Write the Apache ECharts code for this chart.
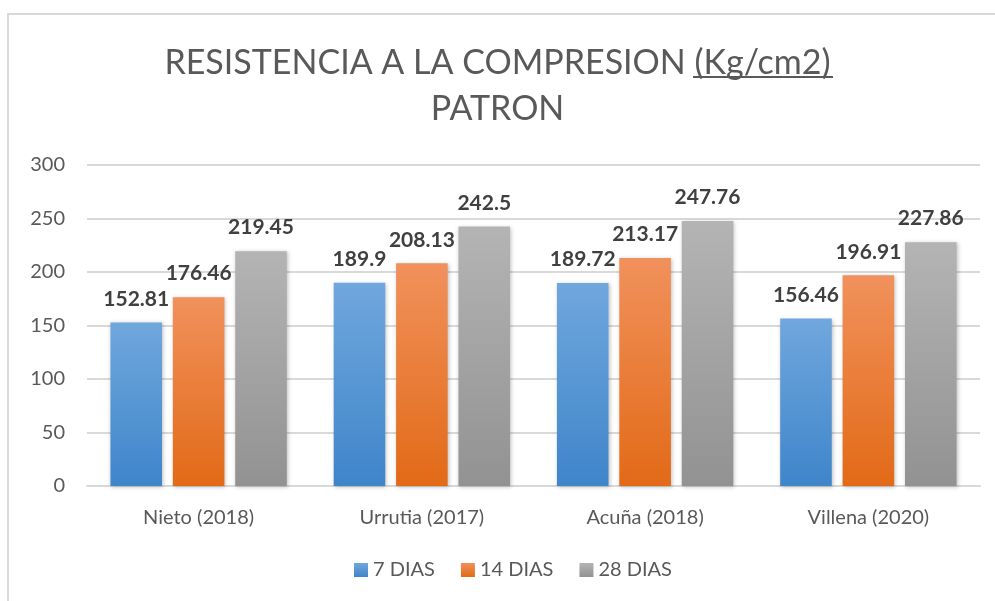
<!DOCTYPE html>
<html>
<head>
<meta charset="utf-8">
<script src="https://cdn.jsdelivr.net/npm/echarts@6/dist/echarts.min.js"></script>
<style>
    html, body { margin: 0; padding: 0; background: #fff; }
    #frame { position: absolute; left: 7px; top: 13px; width: 1000px; height: 600px; border: 2px solid #d9d9d9; box-sizing: border-box; }
    #chart { position: absolute; left: 0; top: 0; width: 995px; height: 601px; }
</style>
</head>
<body>
<div id="frame"></div>
<div id="chart"></div>
<script>
// 数据
var categories = ['Nieto (2018)', 'Urrutia (2017)', 'Acuña (2018)', 'Villena (2020)'];
var seriesNames = ['7 DIAS', '14 DIAS', '28 DIAS'];
var dias7 = [152.81, 189.9, 189.72, 156.46];
var dias14 = [176.46, 208.13, 213.17, 196.91];
var dias28 = [219.45, 242.5, 247.76, 227.86];

var fontName = 'Lato';

function grad(top, bottom) {
    return new echarts.graphic.LinearGradient(0, 0, 0, 1, [
        { offset: 0, color: top },
        { offset: 1, color: bottom }
    ]);
}

var labelOption = {
    show: true,
    position: 'top',
    distance: 13,
    color: '#404040',
    fontFamily: fontName,
    fontWeight: 'bold',
    fontSize: 21
};

function makeSeries(name, data, top, bottom) {
    return {
        name: name,
        type: 'bar',
        data: data,
        barGap: '21%',
        barCategoryGap: '21%',
        label: labelOption,
        itemStyle: {
            color: grad(top, bottom),
            shadowColor: 'rgba(0,0,0,0.25)',
            shadowBlur: 4,
            shadowOffsetX: 1,
            shadowOffsetY: 1
        }
    };
}

var myChart = echarts.init(document.getElementById('chart'));
var option = {
    animation: false,
    title: {
        text: '{a|RESISTENCIA A LA COMPRESION (Kg/cm2)}\n{a|PATRON}',
        left: 'center',
        top: 35,
        textStyle: {
            fontWeight: 'normal',
            rich: {
                a: { fontFamily: fontName, fontSize: 34, fontWeight: 'normal', color: '#595959', lineHeight: 46 }
            }
        }
    },
    // 下划线
    graphic: [{
        type: 'line',
        shape: { x1: 693, y1: 77, x2: 833, y2: 77 },
        style: { stroke: '#595959', lineWidth: 2 }
    }],
    legend: {
        data: seriesNames,
        bottom: 16,
        left: 349,
        itemWidth: 14,
        itemHeight: 14,
        itemGap: 26,
        icon: 'rect',
        textStyle: { fontFamily: fontName, fontSize: 20, color: '#595959' }
    },
    grid: {
        left: 87,
        right: 15,
        top: 165,
        bottom: 115,
        containLabel: false
    },
    xAxis: {
        type: 'category',
        data: categories,
        axisTick: { show: false },
        axisLine: { lineStyle: { color: '#d9d9d9', width: 2 } },
        axisLabel: { fontFamily: fontName, fontSize: 20, color: '#595959', margin: 22 }
    },
    yAxis: {
        type: 'value',
        min: 0,
        max: 300,
        interval: 50,
        axisLine: { show: false },
        axisTick: { show: false },
        splitLine: { lineStyle: { color: '#d9d9d9', width: 2 } },
        axisLabel: { fontFamily: fontName, fontSize: 20, color: '#595959', margin: 22 }
    },
    series: [
        makeSeries(seriesNames[0], dias7, '#70a7dd', '#3f85ca'),
        makeSeries(seriesNames[1], dias14, '#f1915c', '#e26a17'),
        makeSeries(seriesNames[2], dias28, '#b4b4b4', '#929292')
    ]
};
myChart.setOption(option);
</script>
</body>
</html>
